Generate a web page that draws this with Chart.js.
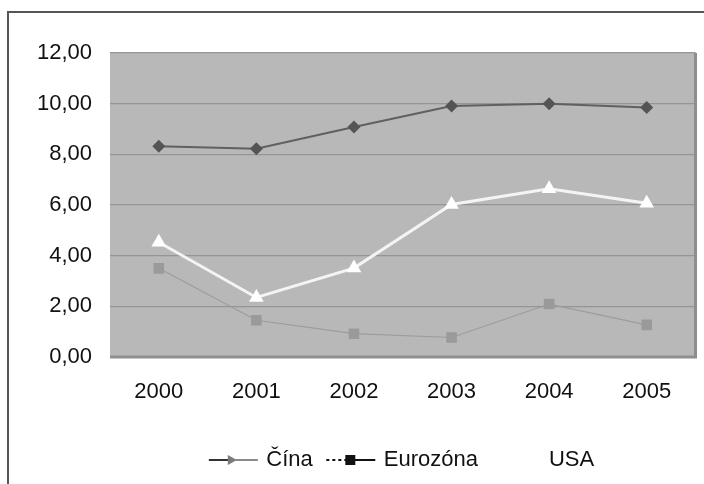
<!DOCTYPE html>
<html>
<head>
<meta charset="utf-8">
<script src="https://cdn.jsdelivr.net/npm/chart.js@4/dist/chart.umd.min.js"></script>
<style>
  html, body { margin: 0; padding: 0; background: #fff; }
  #wrap { width: 704px; height: 484px; }
</style>
</head>
<body>
<div id="wrap"><canvas id="c" width="704" height="484"></canvas></div>
<script>
// Values.
const years = ["2000", "2001", "2002", "2003", "2004", "2005"];
const cina = [8.32, 8.22, 9.08, 9.91, 10.0, 9.85];
const eurozona = [3.50, 1.45, 0.92, 0.77, 2.09, 1.27];
const usa = [4.53, 2.35, 3.51, 6.02, 6.64, 6.07];
const seriesNames = ["Čína", "Eurozóna", "USA"];

const FONT = "'Liberation Sans', Arial, sans-serif";

// Small legend swatch: line with a marker in the middle (Excel style).
function swatch(leftColor, lineColor, markColor, mark, dashLeft) {
    const cv = document.createElement("canvas");
    cv.width = 51; cv.height = 14;
    const g = cv.getContext("2d");
    g.lineWidth = 2;
    g.strokeStyle = leftColor;
    if (dashLeft) g.setLineDash([3, 3]);
    g.beginPath(); g.moveTo(1, 7); g.lineTo(20, 7); g.stroke();
    g.setLineDash([]);
    g.strokeStyle = lineColor;
    g.beginPath(); g.moveTo(28, 7); g.lineTo(50, 7); g.stroke();
    g.fillStyle = markColor;
    g.beginPath();
    if (mark === "rect") g.rect(20, 2, 10, 10);
    else if (mark === "tri") { g.moveTo(25, 1); g.lineTo(31, 12); g.lineTo(19, 12); g.closePath(); }
    else { g.moveTo(20, 2); g.lineTo(29, 7); g.lineTo(20, 12); g.closePath(); }
    g.fill();
    return cv;
}
const legendMarks = [
    swatch("#333333", "#8a8a8a", "#7a7a7a", "arrow", false),
    swatch("#111111", "#111111", "#111111", "rect", true),
    swatch("#ffffff", "#ffffff", "#ffffff", "tri", false),
];

const frame = {
    id: "frame",
    beforeDraw(chart) {
        const { ctx, chartArea: a } = chart;
        ctx.save();
        ctx.fillStyle = "#b8b8b8";
        ctx.fillRect(a.left, a.top, a.right - a.left, a.bottom - a.top);
        ctx.strokeStyle = "#555";
        ctx.lineWidth = 2;
        ctx.strokeRect(8, 12, 720, 500);
        ctx.restore();
    },
    afterDatasetsDraw(chart) {
        const { ctx, chartArea: a } = chart;
        ctx.save();
        ctx.strokeStyle = "#8e8e8e";
        ctx.lineWidth = 3;
        ctx.beginPath();
        ctx.moveTo(a.right, a.top); ctx.lineTo(a.right, a.bottom);
        ctx.lineTo(a.left, a.bottom);
        ctx.stroke();
        ctx.restore();
    }
};

new Chart(document.getElementById("c"), {
    type: "line",
    data: {
        labels: years,
        datasets: [
            {
                label: seriesNames[0], data: cina,
                borderColor: "#606060", backgroundColor: "#545454",
                borderWidth: 2, pointStyle: "rectRot", pointRadius: 6.5,
                pointBorderWidth: 0, tension: 0,
            },
            {
                label: seriesNames[1], data: eurozona,
                borderColor: "#9c9c9c", backgroundColor: "#9a9a9a",
                borderWidth: 1.2, pointStyle: "rect", pointRadius: 7.5,
                pointBorderWidth: 0, tension: 0,
            },
            {
                label: seriesNames[2], data: usa,
                borderColor: "#f4f4f4", backgroundColor: "#ffffff",
                borderWidth: 3, pointStyle: "triangle", pointRadius: 8.5,
                pointBorderWidth: 0, tension: 0,
            },
        ],
    },
    options: {
        responsive: false,
        animation: false,
        layout: { padding: { left: 8, right: 7, top: 53, bottom: 3 } },
        plugins: {
            tooltip: { enabled: false },
            legend: {
                position: "bottom",
                fullSize: false,
                labels: {
                    color: "#111",
                    font: { family: FONT, size: 22 },
                    usePointStyle: true,
                    pointStyleWidth: 44,
                    padding: 16,
                    generateLabels: (chart) => chart.data.datasets.map((ds, i) => ({
                        text: ds.label,
                        pointStyle: legendMarks[i],
                        fillStyle: "#fff", strokeStyle: "#fff", lineWidth: 0,
                        datasetIndex: i, fontColor: "#111",
                    })),
                },
            },
        },
        scales: {
            x: {
                offset: true,
                grid: { display: false, drawTicks: false },
                border: { display: false },
                ticks: { color: "#111", font: { family: FONT, size: 22 }, padding: 22 },
                afterFit: (s) => { s.height = 76; },
            },
            y: {
                min: 0, max: 12,
                grid: { color: "#959595", lineWidth: 1.2, drawTicks: false },
                border: { display: false },
                ticks: {
                    stepSize: 2, padding: 18, color: "#111",
                    font: { family: FONT, size: 22 },
                    callback: (v) => v.toFixed(2).replace(".", ","),
                },
                afterFit: (s) => { s.width = 102; },
            },
        },
    },
    plugins: [frame],
});
</script>
</body>
</html>
